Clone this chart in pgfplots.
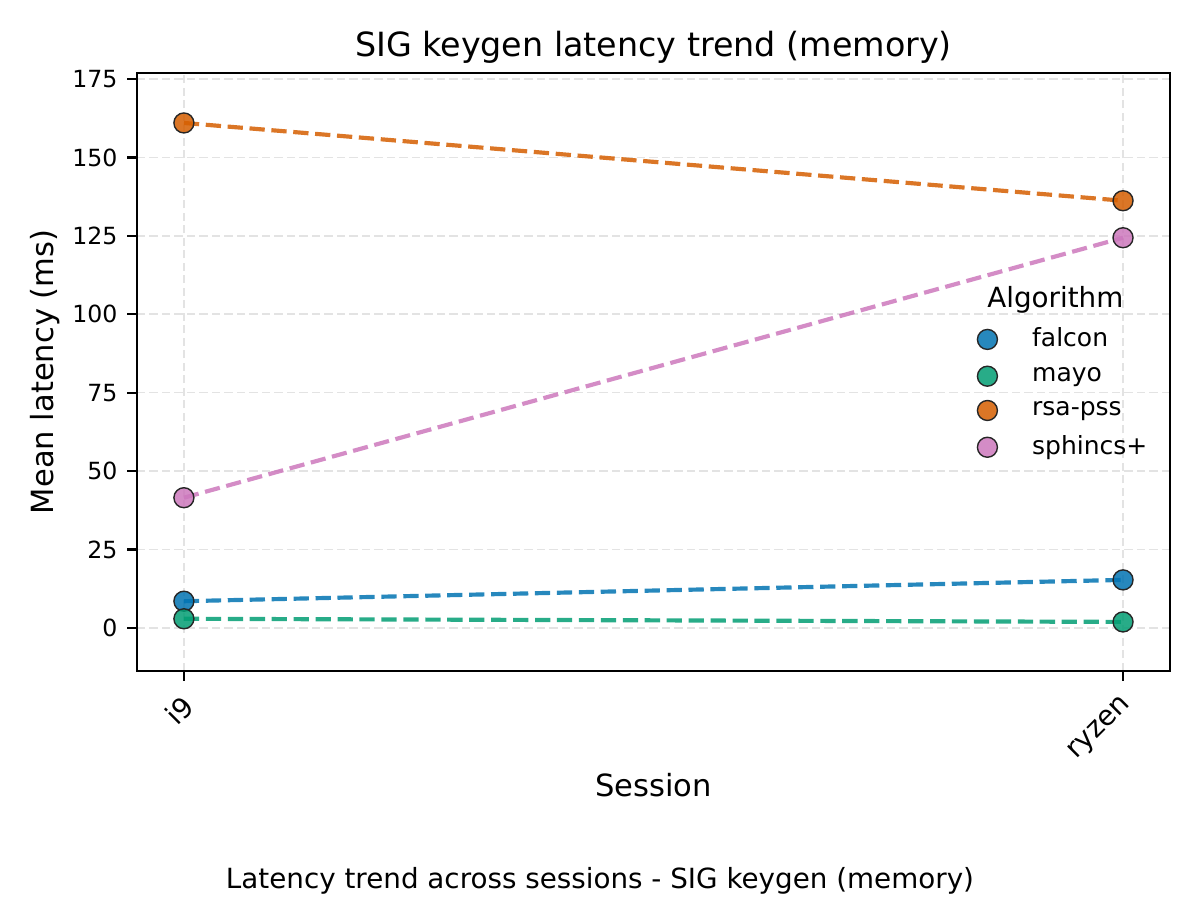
\documentclass[border=0pt]{standalone}
\usepackage{fontspec}
\setmainfont{DejaVu Sans}
\usepackage{pgfplots}
\pgfplotsset{compat=1.18}
\definecolor{cFalcon}{HTML}{0173B2}
\definecolor{cMayo}{HTML}{029E73}
\definecolor{cRsa}{HTML}{D55E00}
\definecolor{cSph}{HTML}{CC78BC}
\tikzset{
  ln/.style={line width=1.5pt, dash pattern=on 5.5pt off 2.4pt, opacity=0.85},
}
\pgfplotsset{
  mk/.style={only marks, mark=*, mark size=3.6pt,
    mark options={solid, draw=black!85, line width=0.5pt, fill=#1, fill opacity=0.85}},
}
\begin{document}
\begin{tikzpicture}
\path (0,0) rectangle (432pt,324pt);
\begin{axis}[
  at={(49.3pt,82.5pt)}, anchor=south west,
  scale only axis, width=371.9pt, height=215.3pt,
  xmin=-0.05, xmax=1.05, ymin=-13.7, ymax=177,
  xtick={0,1}, xticklabels={i9,ryzen},
  ytick={0,25,...,175},
  xticklabel style={rotate=45, anchor=north east, inner sep=2.5pt, xshift=-1.5pt, font=\fontsize{10}{12}\selectfont},
  yticklabel style={font=\fontsize{8.5}{10}\selectfont},
  /pgf/number format/assume math mode=true,
  tick align=outside, xtick pos=bottom, ytick pos=left,
  major tick length=3.5pt, tick style={black, line width=0.8pt},
  axis line style={line width=0.8pt},
  grid=major, grid style={gray!22, line width=0.6pt, dash pattern=on 3pt off 1.5pt},
  title={SIG keygen latency trend (memory)},
  title style={font=\fontsize{12}{14}\selectfont, yshift=-6.2pt},
  xlabel={Session}, ylabel={Mean latency (ms)},
  label style={font=\fontsize{11}{13}\selectfont},
  xlabel style={yshift=3.6pt},
  ylabel style={yshift=-2.5pt},
  legend style={draw=none, fill=none, at={(0.805,0.593)}, anchor=north west,
    font=\fontsize{9}{10}\selectfont, row sep=1.8pt},
  legend cell align=left,
]
\addplot[cFalcon, ln, forget plot] coordinates {(0,8.5)(1,15.3)};
\addplot[cMayo, ln, forget plot] coordinates {(0,2.9)(1,1.9)};
\addplot[cRsa, ln, forget plot] coordinates {(0,161)(1,136.2)};
\addplot[cSph, ln, forget plot] coordinates {(0,41.5)(1,124.4)};
\addplot[mk=cFalcon] coordinates {(0,8.5)(1,15.3)};
\addlegendentry{\hspace{10.5pt}falcon}
\addplot[mk=cMayo] coordinates {(0,2.9)(1,1.9)};
\addlegendentry{\hspace{10.5pt}mayo}
\addplot[mk=cRsa] coordinates {(0,161)(1,136.2)};
\addlegendentry{\hspace{10.5pt}rsa-pss}
\addplot[mk=cSph] coordinates {(0,41.5)(1,124.4)};
\addlegendentry{\hspace{10.5pt}sphincs+}
\node[font=\fontsize{10}{12}\selectfont] at (rel axis cs:0.889,0.62) {Algorithm};
\end{axis}
\node[font=\fontsize{10}{12}\selectfont] at (216pt,7pt) {Latency trend across sessions - SIG keygen (memory)};
\end{tikzpicture}
\end{document}
